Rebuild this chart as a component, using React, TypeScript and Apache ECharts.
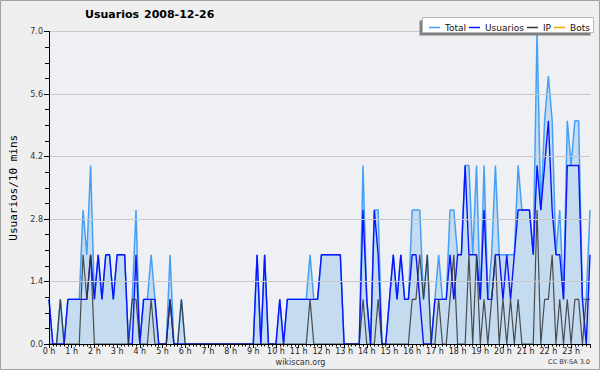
import React, { useEffect, useRef } from "react";
import * as echarts from "echarts";

const hourLabels = ["0 h","1 h","2 h","3 h","4 h","5 h","6 h","7 h","8 h","9 h","10 h","11 h","12 h","13 h","14 h","15 h","16 h","17 h","18 h","19 h","20 h","21 h","22 h","23 h"];

const usuarios = [
  1,0,0,0,0,1,1,1,1,1,
  1,2,1,2,1,2,2,1,2,2,
  2,0,0,2,0,1,1,1,1,0,
  0,0,1,0,0,0,0,0,0,0,
  0,0,0,0,0,0,0,0,0,0,
  0,0,0,0,0,2,0,2,0,0,
  0,1,0,1,1,1,1,1,1,1,
  1,1,2,2,2,2,2,2,0,0,
  0,0,0,3,1,0,3,2,0,0,
  1,2,1,2,1,1,2,2,1,0,
  0,0,1,1,1,1,2,1,2,2,
  4,2,2,2,1,3,1,1,2,2,
  1,2,1,2,3,3,3,3,2,4,
  3,4,5,3,2,2,1,4,4,4,
  4,1,0,2
];

const ip = [
  0,0,0,1,0,0,0,0,0,2,
  1,2,0,0,0,0,0,0,0,0,
  0,0,1,1,0,0,0,1,0,0,
  0,0,1,0,0,1,0,0,0,0,
  0,0,0,0,0,0,0,0,0,0,
  0,0,0,0,0,0,0,0,0,0,
  0,0,0,0,0,0,0,0,0,1,
  0,0,0,0,0,0,0,0,0,0,
  0,0,0,1,0,0,0,1,0,0,
  0,0,0,0,0,0,1,1,2,1,
  2,0,0,1,0,0,1,2,0,0,
  0,2,0,2,0,1,0,1,2,0,
  1,0,1,0,1,0,0,0,0,3,
  0,1,1,2,0,1,0,1,0,1,
  1,0,1,1
];

const total = [
  1,0,0,1,0,1,1,1,1,3,
  2,4,1,2,1,2,2,1,2,2,
  2,0,1,3,0,1,1,2,1,0,
  0,0,2,0,0,1,0,0,0,0,
  0,0,0,0,0,0,0,0,0,0,
  0,0,0,0,0,2,0,2,0,0,
  0,1,0,1,1,1,1,1,1,2,
  1,1,2,2,2,2,2,2,0,0,
  0,0,0,4,1,0,3,3,0,0,
  1,2,1,2,1,1,3,3,3,1,
  2,0,1,2,1,1,3,3,2,2,
  4,4,2,4,1,4,1,2,4,2,
  2,2,2,2,4,3,3,3,2,7,
  3,5,6,5,2,3,1,5,4,5,
  5,1,1,3
];

const bots = [
  0,0,0,0,0,0,0,0,0,0, 0,0,0,0,0,0,0,0,0,0,
  0,0,0,0,0,0,0,0,0,0, 0,0,0,0,0,0,0,0,0,0,
  0,0,0,0,0,0,0,0,0,0, 0,0,0,0,0,0,0,0,0,0,
  0,0,0,0,0,0,0,0,0,0, 0,0,0,0,0,0,0,0,0,0,
  0,0,0,0,0,0,0,0,0,0, 0,0,0,0,0,0,0,0,0,0,
  0,0,0,0,0,0,0,0,0,0, 0,0,0,0,0,0,0,0,0,0,
  0,0,0,0,0,0,0,0,0,0, 0,0,0,0,0,0,0,0,0,0,
  0,0,0,0
];

const FONT = "DejaVu Sans";
const pairs = (arr: number[]) => arr.map((v, i) => [i, v]);

export default function App() {
  const ref = useRef<HTMLDivElement>(null);
  useEffect(() => {
    document.body.style.margin = "0";
    const chart = echarts.init(ref.current!, null, { renderer: "svg" });
    chart.setOption({
      animation: false,
      backgroundColor: "#efefef",
      textStyle: { fontFamily: FONT },
      grid: {
        left: 46, right: 10, top: 31.5, bottom: 26,
        show: true, backgroundColor: "#eef0f3", borderWidth: 0,
      },
      legend: {
        left: 424, top: 18,
        icon: "rect", itemWidth: 11, itemHeight: 1.5, itemGap: 3,
        textStyle: { fontFamily: FONT, fontSize: 9, color: "#111" },
        data: ["Total", "Usuarios", "IP", "Bots"],
        z: 20,
      },
      xAxis: {
        type: "value", min: 0, max: 143, interval: 6,
        z: 10,
        axisLine: { lineStyle: { color: "#000", width: 1 } },
        axisTick: { length: 4, lineStyle: { color: "#000" } },
        minorTick: { show: true, splitNumber: 6, length: 2.5, lineStyle: { color: "#000" } },
        splitLine: { show: false },
        axisLabel: {
          fontSize: 8, color: "#222", margin: 3, fontFamily: FONT,
          formatter: (v: number) => hourLabels[Math.round(v / 6)] ?? "",
        },
      },
      yAxis: {
        type: "value", min: 0, max: 7, interval: 1.4,
        z: 10,
        name: "Usuarios/10 mins", nameLocation: "middle", nameGap: 30,
        nameTextStyle: { fontFamily: "DejaVu Sans Mono", fontSize: 11, color: "#000" },
        axisLine: { show: true, lineStyle: { color: "#000", width: 1 } },
        axisTick: { show: true, length: 5, lineStyle: { color: "#000" } },
        minorTick: { show: true, splitNumber: 4, length: 4, lineStyle: { color: "#000" } },
        splitLine: { show: true, lineStyle: { color: "#c8c8c8", width: 1 } },
        axisLabel: {
          fontSize: 8, color: "#333", margin: 6, fontFamily: FONT,
          formatter: (v: number) => v.toFixed(1),
        },
      },
      series: [
        {
          name: "Total", type: "line", data: pairs(total), showSymbol: false, symbol: "none",
          lineStyle: { color: "#45a0f5", width: 1.5 }, itemStyle: { color: "#45a0f5" },
          areaStyle: { color: "#c5dcf0", opacity: 1 }, z: 2,
        },
        {
          name: "Usuarios", type: "line", data: pairs(usuarios), showSymbol: false, symbol: "none",
          lineStyle: { color: "#0a14ff", width: 1.4 }, itemStyle: { color: "#0a14ff" }, z: 3,
        },
        {
          name: "IP", type: "line", data: pairs(ip), showSymbol: false, symbol: "none",
          lineStyle: { color: "#333", width: 1.2, opacity: 0.85 }, itemStyle: { color: "#333" }, z: 4,
        },
        {
          name: "Bots", type: "line", data: pairs(bots), showSymbol: false, symbol: "none",
          lineStyle: { color: "#ffa500", width: 1.2 }, itemStyle: { color: "#ffa500" }, z: 1,
        },
      ],
      graphic: [
        { type: "rect", shape: { x: 0.5, y: 0.5, width: 599, height: 369 }, style: { fill: "none", stroke: "#a0a0a0", lineWidth: 1 }, z: 0, silent: true },
        { type: "rect", shape: { x: 419.5, y: 20.5, width: 171, height: 15 }, style: { fill: "#808080" }, z: 18, silent: true },
        { type: "rect", shape: { x: 422.5, y: 17.5, width: 171, height: 15 }, style: { fill: "#ffffff", stroke: "#b8b8b8", lineWidth: 1 }, z: 19, silent: true },
        { type: "text", left: 85, top: 9, style: { text: "Usuarios", font: `bold 11px ${FONT}`, fill: "#000" }, z: 20 },
        { type: "text", left: 144, top: 9, style: { text: "2008-12-26", font: `bold 11px ${FONT}`, fill: "#000" }, z: 20 },
        { type: "text", x: 300.5, y: 362, style: { text: "wikiscan.org", font: `8px ${FONT}`, fill: "#333", align: "center", verticalAlign: "middle" }, z: 20 },
        { type: "text", x: 590, y: 362, style: { text: "CC BY-SA 3.0", font: `6.5px ${FONT}`, fill: "#333", align: "right", verticalAlign: "middle" }, z: 20 },
      ],
    });
    return () => chart.dispose();
  }, []);
  return <div ref={ref} style={{ width: 600, height: 370 }} />;
}
